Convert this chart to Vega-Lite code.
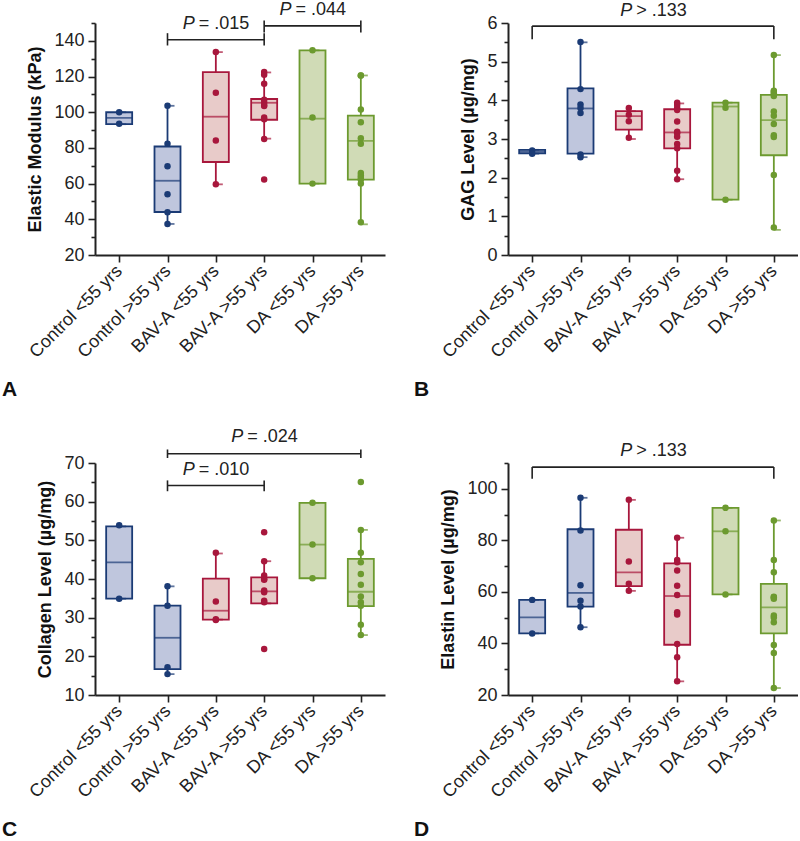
{
  "$schema": "https://vega.github.io/schema/vega-lite/v6.json",
  "background": "white",
  "padding": {"left": 2, "top": 0, "right": 0, "bottom": 0},
  "config": {
    "view": {"stroke": null},
    "font": "Liberation Sans",
    "axis": {
      "domainColor": "#222", "domainWidth": 2, "tickColor": "#222", "tickWidth": 1.6,
      "labelColor": "#222", "labelFontSize": 18, "labelFont": "Liberation Sans",
      "titleColor": "#111", "titleFontSize": 18, "titleFont": "Liberation Sans", "titleFontWeight": "bold",
      "grid": false, "labelPadding": 4, "labelOverlap": false, "labelFlush": false
    },
    "tick": {"thickness": 1.8},
    "text": {"font": "Liberation Sans", "fontSize": 18, "color": "#222"}
  },
  "datasets": {
    "pts": [
      {"panel":"A","group":"Control <55 yrs","v":100},{"panel":"A","group":"Control <55 yrs","v":93.5},
      {"panel":"A","group":"Control >55 yrs","v":103.6},{"panel":"A","group":"Control >55 yrs","v":82.3},{"panel":"A","group":"Control >55 yrs","v":69.7},{"panel":"A","group":"Control >55 yrs","v":54},{"panel":"A","group":"Control >55 yrs","v":44},{"panel":"A","group":"Control >55 yrs","v":37.4},
      {"panel":"A","group":"BAV-A <55 yrs","v":133.7},{"panel":"A","group":"BAV-A <55 yrs","v":110.9},{"panel":"A","group":"BAV-A <55 yrs","v":84.2},{"panel":"A","group":"BAV-A <55 yrs","v":59.6},
      {"panel":"A","group":"BAV-A >55 yrs","v":122.5},{"panel":"A","group":"BAV-A >55 yrs","v":121},{"panel":"A","group":"BAV-A >55 yrs","v":116},{"panel":"A","group":"BAV-A >55 yrs","v":107},{"panel":"A","group":"BAV-A >55 yrs","v":105.5},{"panel":"A","group":"BAV-A >55 yrs","v":104},{"panel":"A","group":"BAV-A >55 yrs","v":103.5},{"panel":"A","group":"BAV-A >55 yrs","v":97},{"panel":"A","group":"BAV-A >55 yrs","v":96},{"panel":"A","group":"BAV-A >55 yrs","v":85},{"panel":"A","group":"BAV-A >55 yrs","v":62.3},
      {"panel":"A","group":"DA <55 yrs","v":134.7},{"panel":"A","group":"DA <55 yrs","v":97},{"panel":"A","group":"DA <55 yrs","v":60},
      {"panel":"A","group":"DA >55 yrs","v":120.6},{"panel":"A","group":"DA >55 yrs","v":120.6},{"panel":"A","group":"DA >55 yrs","v":101.5},{"panel":"A","group":"DA >55 yrs","v":94.4},{"panel":"A","group":"DA >55 yrs","v":85.4},{"panel":"A","group":"DA >55 yrs","v":82.4},{"panel":"A","group":"DA >55 yrs","v":66},{"panel":"A","group":"DA >55 yrs","v":64.5},{"panel":"A","group":"DA >55 yrs","v":63.3},{"panel":"A","group":"DA >55 yrs","v":62.3},{"panel":"A","group":"DA >55 yrs","v":60.1},{"panel":"A","group":"DA >55 yrs","v":38.4},

      {"panel":"B","group":"Control <55 yrs","v":2.70},{"panel":"B","group":"Control <55 yrs","v":2.62},
      {"panel":"B","group":"Control >55 yrs","v":5.51},{"panel":"B","group":"Control >55 yrs","v":4.29},{"panel":"B","group":"Control >55 yrs","v":3.89},{"panel":"B","group":"Control >55 yrs","v":3.80},{"panel":"B","group":"Control >55 yrs","v":3.67},{"panel":"B","group":"Control >55 yrs","v":2.60},{"panel":"B","group":"Control >55 yrs","v":2.53},
      {"panel":"B","group":"BAV-A <55 yrs","v":3.80},{"panel":"B","group":"BAV-A <55 yrs","v":3.63},{"panel":"B","group":"BAV-A <55 yrs","v":3.46},{"panel":"B","group":"BAV-A <55 yrs","v":3.03},
      {"panel":"B","group":"BAV-A >55 yrs","v":3.94},{"panel":"B","group":"BAV-A >55 yrs","v":3.88},{"panel":"B","group":"BAV-A >55 yrs","v":3.80},{"panel":"B","group":"BAV-A >55 yrs","v":3.75},{"panel":"B","group":"BAV-A >55 yrs","v":3.45},{"panel":"B","group":"BAV-A >55 yrs","v":3.19},{"panel":"B","group":"BAV-A >55 yrs","v":3.15},{"panel":"B","group":"BAV-A >55 yrs","v":3.06},{"panel":"B","group":"BAV-A >55 yrs","v":2.87},{"panel":"B","group":"BAV-A >55 yrs","v":2.76},{"panel":"B","group":"BAV-A >55 yrs","v":2.18},{"panel":"B","group":"BAV-A >55 yrs","v":1.96},
      {"panel":"B","group":"DA <55 yrs","v":3.94},{"panel":"B","group":"DA <55 yrs","v":3.81},{"panel":"B","group":"DA <55 yrs","v":1.43},
      {"panel":"B","group":"DA >55 yrs","v":5.17},{"panel":"B","group":"DA >55 yrs","v":4.25},{"panel":"B","group":"DA >55 yrs","v":4.22},{"panel":"B","group":"DA >55 yrs","v":4.18},{"panel":"B","group":"DA >55 yrs","v":4.11},{"panel":"B","group":"DA >55 yrs","v":3.71},{"panel":"B","group":"DA >55 yrs","v":3.60},{"panel":"B","group":"DA >55 yrs","v":3.39},{"panel":"B","group":"DA >55 yrs","v":3.10},{"panel":"B","group":"DA >55 yrs","v":3.05},{"panel":"B","group":"DA >55 yrs","v":2.07},{"panel":"B","group":"DA >55 yrs","v":0.71},

      {"panel":"C","group":"Control <55 yrs","v":53.9},{"panel":"C","group":"Control <55 yrs","v":34.9},
      {"panel":"C","group":"Control >55 yrs","v":38.1},{"panel":"C","group":"Control >55 yrs","v":33.1},{"panel":"C","group":"Control >55 yrs","v":17.2},{"panel":"C","group":"Control >55 yrs","v":15.4},
      {"panel":"C","group":"BAV-A <55 yrs","v":46.8},{"panel":"C","group":"BAV-A <55 yrs","v":34.2},{"panel":"C","group":"BAV-A <55 yrs","v":29.6},{"panel":"C","group":"BAV-A <55 yrs","v":29.4},
      {"panel":"C","group":"BAV-A >55 yrs","v":52.1},{"panel":"C","group":"BAV-A >55 yrs","v":44.6},{"panel":"C","group":"BAV-A >55 yrs","v":40.9},{"panel":"C","group":"BAV-A >55 yrs","v":40.0},{"panel":"C","group":"BAV-A >55 yrs","v":39.8},{"panel":"C","group":"BAV-A >55 yrs","v":37.0},{"panel":"C","group":"BAV-A >55 yrs","v":36.6},{"panel":"C","group":"BAV-A >55 yrs","v":34.4},{"panel":"C","group":"BAV-A >55 yrs","v":34.0},{"panel":"C","group":"BAV-A >55 yrs","v":21.9},
      {"panel":"C","group":"DA <55 yrs","v":59.7},{"panel":"C","group":"DA <55 yrs","v":48.9},{"panel":"C","group":"DA <55 yrs","v":40.2},
      {"panel":"C","group":"DA >55 yrs","v":65.1},{"panel":"C","group":"DA >55 yrs","v":52.7},{"panel":"C","group":"DA >55 yrs","v":46.8},{"panel":"C","group":"DA >55 yrs","v":44.3},{"panel":"C","group":"DA >55 yrs","v":41.3},{"panel":"C","group":"DA >55 yrs","v":38.5},{"panel":"C","group":"DA >55 yrs","v":35.5},{"panel":"C","group":"DA >55 yrs","v":34.0},{"panel":"C","group":"DA >55 yrs","v":33.1},{"panel":"C","group":"DA >55 yrs","v":28.2},{"panel":"C","group":"DA >55 yrs","v":25.5},

      {"panel":"D","group":"Control <55 yrs","v":56.9},{"panel":"D","group":"Control <55 yrs","v":43.9},
      {"panel":"D","group":"Control >55 yrs","v":96.5},{"panel":"D","group":"Control >55 yrs","v":83.8},{"panel":"D","group":"Control >55 yrs","v":62.6},{"panel":"D","group":"Control >55 yrs","v":56.6},{"panel":"D","group":"Control >55 yrs","v":54.3},{"panel":"D","group":"Control >55 yrs","v":46.3},
      {"panel":"D","group":"BAV-A <55 yrs","v":95.7},{"panel":"D","group":"BAV-A <55 yrs","v":71.8},{"panel":"D","group":"BAV-A <55 yrs","v":63.2},{"panel":"D","group":"BAV-A <55 yrs","v":60.4},
      {"panel":"D","group":"BAV-A >55 yrs","v":81.0},{"panel":"D","group":"BAV-A >55 yrs","v":72.4},{"panel":"D","group":"BAV-A >55 yrs","v":71.5},{"panel":"D","group":"BAV-A >55 yrs","v":68.3},{"panel":"D","group":"BAV-A >55 yrs","v":62.4},{"panel":"D","group":"BAV-A >55 yrs","v":58.8},{"panel":"D","group":"BAV-A >55 yrs","v":52.1},{"panel":"D","group":"BAV-A >55 yrs","v":51.2},{"panel":"D","group":"BAV-A >55 yrs","v":39.8},{"panel":"D","group":"BAV-A >55 yrs","v":34.6},{"panel":"D","group":"BAV-A >55 yrs","v":25.3},
      {"panel":"D","group":"DA <55 yrs","v":92.6},{"panel":"D","group":"DA <55 yrs","v":83.5},{"panel":"D","group":"DA <55 yrs","v":59.0},
      {"panel":"D","group":"DA >55 yrs","v":87.7},{"panel":"D","group":"DA >55 yrs","v":72.4},{"panel":"D","group":"DA >55 yrs","v":67.6},{"panel":"D","group":"DA >55 yrs","v":58.1},{"panel":"D","group":"DA >55 yrs","v":57.9},{"panel":"D","group":"DA >55 yrs","v":57.3},{"panel":"D","group":"DA >55 yrs","v":50.8},{"panel":"D","group":"DA >55 yrs","v":50.1},{"panel":"D","group":"DA >55 yrs","v":48.2},{"panel":"D","group":"DA >55 yrs","v":39.4},{"panel":"D","group":"DA >55 yrs","v":36.3},{"panel":"D","group":"DA >55 yrs","v":22.7}
    ],
    "box": [
      {"panel":"A","group":"Control <55 yrs","lo":93.3,"q1":93.3,"med":96.8,"q3":100,"hi":100},
      {"panel":"A","group":"Control >55 yrs","lo":37.4,"q1":44.1,"med":61.6,"q3":80.8,"hi":103.6},
      {"panel":"A","group":"BAV-A <55 yrs","lo":59.6,"q1":72.1,"med":97.5,"q3":122.5,"hi":133.7},
      {"panel":"A","group":"BAV-A >55 yrs","lo":85.2,"q1":95.8,"med":105.3,"q3":107.4,"hi":122.3},
      {"panel":"A","group":"DA <55 yrs","lo":60,"q1":60,"med":96.4,"q3":134.7,"hi":134.7},
      {"panel":"A","group":"DA >55 yrs","lo":37.2,"q1":62.2,"med":84,"q3":98.1,"hi":120.6},
      {"panel":"B","group":"Control <55 yrs","lo":2.62,"q1":2.63,"med":2.67,"q3":2.72,"hi":2.72},
      {"panel":"B","group":"Control >55 yrs","lo":2.53,"q1":2.62,"med":3.79,"q3":4.31,"hi":5.5},
      {"panel":"B","group":"BAV-A <55 yrs","lo":3.0,"q1":3.24,"med":3.59,"q3":3.72,"hi":3.72},
      {"panel":"B","group":"BAV-A >55 yrs","lo":1.96,"q1":2.76,"med":3.17,"q3":3.77,"hi":3.92},
      {"panel":"B","group":"DA <55 yrs","lo":1.43,"q1":1.43,"med":3.84,"q3":3.94,"hi":3.94},
      {"panel":"B","group":"DA >55 yrs","lo":0.65,"q1":2.58,"med":3.49,"q3":4.14,"hi":5.17},
      {"panel":"C","group":"Control <55 yrs","lo":34.9,"q1":34.9,"med":44.3,"q3":53.6,"hi":53.6},
      {"panel":"C","group":"Control >55 yrs","lo":15.4,"q1":16.7,"med":24.8,"q3":33.1,"hi":38.1},
      {"panel":"C","group":"BAV-A <55 yrs","lo":29.5,"q1":29.5,"med":31.8,"q3":40.1,"hi":46.6},
      {"panel":"C","group":"BAV-A >55 yrs","lo":33.7,"q1":33.7,"med":36.8,"q3":40.4,"hi":44.6},
      {"panel":"C","group":"DA <55 yrs","lo":40.2,"q1":40.2,"med":48.9,"q3":59.7,"hi":59.7},
      {"panel":"C","group":"DA >55 yrs","lo":25.5,"q1":33.0,"med":36.7,"q3":45.2,"hi":52.7},
      {"panel":"D","group":"Control <55 yrs","lo":43.9,"q1":43.9,"med":50.1,"q3":56.9,"hi":56.9},
      {"panel":"D","group":"Control >55 yrs","lo":46.3,"q1":54.3,"med":59.6,"q3":84.3,"hi":96.5},
      {"panel":"D","group":"BAV-A <55 yrs","lo":60.4,"q1":62.2,"med":67.6,"q3":84.1,"hi":95.7},
      {"panel":"D","group":"BAV-A >55 yrs","lo":25.3,"q1":39.5,"med":58.4,"q3":71.1,"hi":81.0},
      {"panel":"D","group":"DA <55 yrs","lo":59.0,"q1":59.0,"med":83.5,"q3":92.6,"hi":92.6},
      {"panel":"D","group":"DA >55 yrs","lo":22.7,"q1":43.9,"med":54.0,"q3":63.1,"hi":87.7}
    ],
    "brk": [
      {"panel":"A","from":"Control >55 yrs","to":"BAV-A >55 yrs","y":140.6,"ylo":137.4,"yhi":144.3},
      {"panel":"A","from":"BAV-A >55 yrs","to":"DA >55 yrs","y":148.4,"ylo":144.7,"yhi":151.4},
      {"panel":"B","from":"Control <55 yrs","to":"DA >55 yrs","y":5.92,"ylo":5.58,"yhi":5.92},
      {"panel":"C","from":"Control >55 yrs","to":"DA >55 yrs","y":72.4,"ylo":71.3,"yhi":73.5},
      {"panel":"C","from":"Control >55 yrs","to":"BAV-A >55 yrs","y":64.2,"ylo":62.7,"yhi":65.5},
      {"panel":"D","from":"Control <55 yrs","to":"DA >55 yrs","y":108.4,"ylo":103.9,"yhi":108.4}
    ],
    "ptxt": [
      {"panel":"A","group":"BAV-A <55 yrs","y":146.7,"p":"P","rest":"= .015"},
      {"panel":"A","group":"DA <55 yrs","y":154.5,"p":"P","rest":"= .044"},
      {"panel":"B","group":"BAV-A >55 yrs","y":6.18,"p":"P","rest":"> .133"},
      {"panel":"C","group":"BAV-A >55 yrs","y":75.4,"p":"P","rest":"= .024"},
      {"panel":"C","group":"BAV-A <55 yrs","y":67.0,"p":"P","rest":"= .010"},
      {"panel":"D","group":"BAV-A >55 yrs","y":112.9,"p":"P","rest":"> .133"}
    ]
  },
  "bounds": "flush",
  "spacing": 440,
  "vconcat": [
    {
      "bounds": "flush",
      "spacing": 123,
      "hconcat": [
        {
          "width": 290, "height": 232,
          "title": {"text": "A", "orient": "bottom", "anchor": "start", "frame": "group", "fontSize": 21, "fontWeight": "bold", "font": "Liberation Sans", "color": "#111", "dx": -93, "offset": 18},
          "resolve": {"axis": {"y": "independent"}},
          "layer": [
            {"layer": [
            {"data": {"name": "box"}, "transform": [{"filter": "datum.panel === 'A'"}], "mark": {"type": "rule", "strokeWidth": 1.8},
             "encoding": {
               "x": {"field": "group", "type": "nominal", "title": null, "scale": {"type": "point", "padding": 0.5, "domain": ["Control <55 yrs","Control >55 yrs","BAV-A <55 yrs","BAV-A >55 yrs","DA <55 yrs","DA >55 yrs"]}, "axis": {"labelAngle": -45, "labelAlign": "right", "labelBaseline": "middle", "tickSize": 7, "labelPadding": 6}},
               "y": {"field": "lo", "type": "quantitative", "title": "Elastic Modulus (kPa)", "scale": {"domain": [20, 150], "nice": false, "zero": false}, "axis": {"values": [20,40,60,80,100,120,140], "format": "d", "tickCount": 50, "labelOverlap": false, "tickSize": 7, "titlePadding": 9}},
               "y2": {"field": "hi"},
               "color": {"field": "group", "type": "nominal", "legend": null, "scale": {"domain": ["Control <55 yrs","Control >55 yrs","BAV-A <55 yrs","BAV-A >55 yrs","DA <55 yrs","DA >55 yrs"], "range": ["#1b3b75","#1b3b75","#a8173c","#a8173c","#6c9a2f","#6c9a2f"]}}
             }},
            {"data": {"name": "box"}, "transform": [{"filter": "datum.panel === 'A'"}], "mark": {"type": "bar", "size": 26, "strokeWidth": 1.8},
             "encoding": {
               "x": {"field": "group", "type": "nominal"},
               "y": {"field": "q1", "type": "quantitative"}, "y2": {"field": "q3"},
               "fill": {"field": "group", "type": "nominal", "legend": null, "scale": {"domain": ["Control <55 yrs","Control >55 yrs","BAV-A <55 yrs","BAV-A >55 yrs","DA <55 yrs","DA >55 yrs"], "range": ["#bfc6dd","#bfc6dd","#e8cbc9","#e8cbc9","#d0dbb6","#d0dbb6"]}},
               "stroke": {"field": "group", "type": "nominal", "legend": null, "scale": {"domain": ["Control <55 yrs","Control >55 yrs","BAV-A <55 yrs","BAV-A >55 yrs","DA <55 yrs","DA >55 yrs"], "range": ["#1b3b75","#1b3b75","#a8173c","#a8173c","#6c9a2f","#6c9a2f"]}}
             }},
            {"data": {"name": "box"}, "transform": [{"filter": "datum.panel === 'A'"}], "mark": {"type": "tick", "size": 26, "thickness": 1.8},
             "encoding": {"x": {"field": "group", "type": "nominal"}, "y": {"field": "med", "type": "quantitative"}, "color": {"field": "group", "type": "nominal"}}},
            {"data": {"name": "box"}, "transform": [{"filter": "datum.panel === 'A'"}], "mark": {"type": "tick", "size": 7, "thickness": 1.8, "xOffset": 3.5},
             "encoding": {"x": {"field": "group", "type": "nominal"}, "y": {"field": "lo", "type": "quantitative"}, "color": {"field": "group", "type": "nominal"}}},
            {"data": {"name": "box"}, "transform": [{"filter": "datum.panel === 'A'"}], "mark": {"type": "tick", "size": 7, "thickness": 1.8, "xOffset": 3.5},
             "encoding": {"x": {"field": "group", "type": "nominal"}, "y": {"field": "hi", "type": "quantitative"}, "color": {"field": "group", "type": "nominal"}}},
            {"data": {"name": "pts"}, "transform": [{"filter": "datum.panel === 'A'"}], "mark": {"type": "circle", "size": 42, "opacity": 1},
             "encoding": {"x": {"field": "group", "type": "nominal"}, "y": {"field": "v", "type": "quantitative"}, "color": {"field": "group", "type": "nominal"}}},
            {"data": {"name": "brk"}, "transform": [{"filter": "datum.panel === 'A'"}], "mark": {"type": "rule", "color": "#222", "strokeWidth": 1.6},
             "encoding": {"x": {"field": "from", "type": "nominal"}, "x2": {"field": "to"}, "y": {"field": "y", "type": "quantitative"}}},
            {"data": {"name": "brk"}, "transform": [{"filter": "datum.panel === 'A'"}], "mark": {"type": "rule", "color": "#222", "strokeWidth": 1.6},
             "encoding": {"x": {"field": "from", "type": "nominal"}, "y": {"field": "ylo", "type": "quantitative"}, "y2": {"field": "yhi"}}},
            {"data": {"name": "brk"}, "transform": [{"filter": "datum.panel === 'A'"}], "mark": {"type": "rule", "color": "#222", "strokeWidth": 1.6},
             "encoding": {"x": {"field": "to", "type": "nominal"}, "y": {"field": "ylo", "type": "quantitative"}, "y2": {"field": "yhi"}}},
            {"data": {"name": "ptxt"}, "transform": [{"filter": "datum.panel === 'A'"}], "mark": {"type": "text", "fontStyle": "italic", "align": "right", "baseline": "alphabetic", "dx": -21},
             "encoding": {"x": {"field": "group", "type": "nominal"}, "y": {"field": "y", "type": "quantitative"}, "text": {"field": "p"}}},
            {"data": {"name": "ptxt"}, "transform": [{"filter": "datum.panel === 'A'"}], "mark": {"type": "text", "align": "left", "baseline": "alphabetic", "dx": -17},
             "encoding": {"x": {"field": "group", "type": "nominal"}, "y": {"field": "y", "type": "quantitative"}, "text": {"field": "rest"}}}
            ]},
            {"data": {"name": "pts"}, "transform": [{"filter": "datum.panel === 'A'"}], "mark": {"type": "point", "opacity": 0},
             "encoding": {"x": {"field": "group", "type": "nominal"}, "y": {"field": "v", "type": "quantitative", "title": null, "axis": {"orient": "left", "values": [30,50,70,90,110,130,150], "tickCount": 50, "labels": false, "domain": false, "tickSize": 4, "title": null}}}}
          ]
        },
        {
          "width": 290, "height": 232,
          "title": {"text": "B", "orient": "bottom", "anchor": "start", "frame": "group", "fontSize": 21, "fontWeight": "bold", "font": "Liberation Sans", "color": "#111", "dx": -94, "offset": 18},
          "resolve": {"axis": {"y": "independent"}},
          "layer": [
            {"layer": [
            {"data": {"name": "box"}, "transform": [{"filter": "datum.panel === 'B'"}], "mark": {"type": "rule", "strokeWidth": 1.8},
             "encoding": {
               "x": {"field": "group", "type": "nominal", "title": null, "scale": {"type": "point", "padding": 0.5, "domain": ["Control <55 yrs","Control >55 yrs","BAV-A <55 yrs","BAV-A >55 yrs","DA <55 yrs","DA >55 yrs"]}, "axis": {"labelAngle": -45, "labelAlign": "right", "labelBaseline": "middle", "tickSize": 7, "labelPadding": 6}},
               "y": {"field": "lo", "type": "quantitative", "title": "GAG Level (µg/mg)", "scale": {"domain": [0, 6], "nice": false, "zero": false}, "axis": {"values": [0,1,2,3,4,5,6], "format": "d", "tickCount": 50, "labelOverlap": false, "tickSize": 7, "titlePadding": 9}},
               "y2": {"field": "hi"},
               "color": {"field": "group", "type": "nominal", "legend": null, "scale": {"domain": ["Control <55 yrs","Control >55 yrs","BAV-A <55 yrs","BAV-A >55 yrs","DA <55 yrs","DA >55 yrs"], "range": ["#1b3b75","#1b3b75","#a8173c","#a8173c","#6c9a2f","#6c9a2f"]}}
             }},
            {"data": {"name": "box"}, "transform": [{"filter": "datum.panel === 'B'"}], "mark": {"type": "bar", "size": 26, "strokeWidth": 1.8},
             "encoding": {
               "x": {"field": "group", "type": "nominal"},
               "y": {"field": "q1", "type": "quantitative"}, "y2": {"field": "q3"},
               "fill": {"field": "group", "type": "nominal", "legend": null, "scale": {"domain": ["Control <55 yrs","Control >55 yrs","BAV-A <55 yrs","BAV-A >55 yrs","DA <55 yrs","DA >55 yrs"], "range": ["#bfc6dd","#bfc6dd","#e8cbc9","#e8cbc9","#d0dbb6","#d0dbb6"]}},
               "stroke": {"field": "group", "type": "nominal", "legend": null, "scale": {"domain": ["Control <55 yrs","Control >55 yrs","BAV-A <55 yrs","BAV-A >55 yrs","DA <55 yrs","DA >55 yrs"], "range": ["#1b3b75","#1b3b75","#a8173c","#a8173c","#6c9a2f","#6c9a2f"]}}
             }},
            {"data": {"name": "box"}, "transform": [{"filter": "datum.panel === 'B'"}], "mark": {"type": "tick", "size": 26, "thickness": 1.8},
             "encoding": {"x": {"field": "group", "type": "nominal"}, "y": {"field": "med", "type": "quantitative"}, "color": {"field": "group", "type": "nominal"}}},
            {"data": {"name": "box"}, "transform": [{"filter": "datum.panel === 'B'"}], "mark": {"type": "tick", "size": 7, "thickness": 1.8, "xOffset": 3.5},
             "encoding": {"x": {"field": "group", "type": "nominal"}, "y": {"field": "lo", "type": "quantitative"}, "color": {"field": "group", "type": "nominal"}}},
            {"data": {"name": "box"}, "transform": [{"filter": "datum.panel === 'B'"}], "mark": {"type": "tick", "size": 7, "thickness": 1.8, "xOffset": 3.5},
             "encoding": {"x": {"field": "group", "type": "nominal"}, "y": {"field": "hi", "type": "quantitative"}, "color": {"field": "group", "type": "nominal"}}},
            {"data": {"name": "pts"}, "transform": [{"filter": "datum.panel === 'B'"}], "mark": {"type": "circle", "size": 42, "opacity": 1},
             "encoding": {"x": {"field": "group", "type": "nominal"}, "y": {"field": "v", "type": "quantitative"}, "color": {"field": "group", "type": "nominal"}}},
            {"data": {"name": "brk"}, "transform": [{"filter": "datum.panel === 'B'"}], "mark": {"type": "rule", "color": "#222", "strokeWidth": 1.6},
             "encoding": {"x": {"field": "from", "type": "nominal"}, "x2": {"field": "to"}, "y": {"field": "y", "type": "quantitative"}}},
            {"data": {"name": "brk"}, "transform": [{"filter": "datum.panel === 'B'"}], "mark": {"type": "rule", "color": "#222", "strokeWidth": 1.6},
             "encoding": {"x": {"field": "from", "type": "nominal"}, "y": {"field": "ylo", "type": "quantitative"}, "y2": {"field": "yhi"}}},
            {"data": {"name": "brk"}, "transform": [{"filter": "datum.panel === 'B'"}], "mark": {"type": "rule", "color": "#222", "strokeWidth": 1.6},
             "encoding": {"x": {"field": "to", "type": "nominal"}, "y": {"field": "ylo", "type": "quantitative"}, "y2": {"field": "yhi"}}},
            {"data": {"name": "ptxt"}, "transform": [{"filter": "datum.panel === 'B'"}], "mark": {"type": "text", "fontStyle": "italic", "align": "right", "baseline": "alphabetic", "dx": -45},
             "encoding": {"x": {"field": "group", "type": "nominal"}, "y": {"field": "y", "type": "quantitative"}, "text": {"field": "p"}}},
            {"data": {"name": "ptxt"}, "transform": [{"filter": "datum.panel === 'B'"}], "mark": {"type": "text", "align": "left", "baseline": "alphabetic", "dx": -41},
             "encoding": {"x": {"field": "group", "type": "nominal"}, "y": {"field": "y", "type": "quantitative"}, "text": {"field": "rest"}}}
            ]},
            {"data": {"name": "pts"}, "transform": [{"filter": "datum.panel === 'B'"}], "mark": {"type": "point", "opacity": 0},
             "encoding": {"x": {"field": "group", "type": "nominal"}, "y": {"field": "v", "type": "quantitative", "title": null, "axis": {"orient": "left", "values": [0.5,1.5,2.5,3.5,4.5,5.5], "tickCount": 50, "labels": false, "domain": false, "tickSize": 4, "title": null}}}}
          ]
        }
      ]
    },
    {
      "bounds": "flush",
      "spacing": 123,
      "hconcat": [
        {
          "width": 290, "height": 232,
          "title": {"text": "C", "orient": "bottom", "anchor": "start", "frame": "group", "fontSize": 21, "fontWeight": "bold", "font": "Liberation Sans", "color": "#111", "dx": -93, "offset": 18},
          "resolve": {"axis": {"y": "independent"}},
          "layer": [
            {"layer": [
            {"data": {"name": "box"}, "transform": [{"filter": "datum.panel === 'C'"}], "mark": {"type": "rule", "strokeWidth": 1.8},
             "encoding": {
               "x": {"field": "group", "type": "nominal", "title": null, "scale": {"type": "point", "padding": 0.5, "domain": ["Control <55 yrs","Control >55 yrs","BAV-A <55 yrs","BAV-A >55 yrs","DA <55 yrs","DA >55 yrs"]}, "axis": {"labelAngle": -45, "labelAlign": "right", "labelBaseline": "middle", "tickSize": 7, "labelPadding": 6}},
               "y": {"field": "lo", "type": "quantitative", "title": "Collagen Level (µg/mg)", "scale": {"domain": [10, 70], "nice": false, "zero": false}, "axis": {"values": [10,20,30,40,50,60,70], "format": "d", "tickCount": 50, "labelOverlap": false, "tickSize": 7, "titlePadding": 9}},
               "y2": {"field": "hi"},
               "color": {"field": "group", "type": "nominal", "legend": null, "scale": {"domain": ["Control <55 yrs","Control >55 yrs","BAV-A <55 yrs","BAV-A >55 yrs","DA <55 yrs","DA >55 yrs"], "range": ["#1b3b75","#1b3b75","#a8173c","#a8173c","#6c9a2f","#6c9a2f"]}}
             }},
            {"data": {"name": "box"}, "transform": [{"filter": "datum.panel === 'C'"}], "mark": {"type": "bar", "size": 26, "strokeWidth": 1.8},
             "encoding": {
               "x": {"field": "group", "type": "nominal"},
               "y": {"field": "q1", "type": "quantitative"}, "y2": {"field": "q3"},
               "fill": {"field": "group", "type": "nominal", "legend": null, "scale": {"domain": ["Control <55 yrs","Control >55 yrs","BAV-A <55 yrs","BAV-A >55 yrs","DA <55 yrs","DA >55 yrs"], "range": ["#bfc6dd","#bfc6dd","#e8cbc9","#e8cbc9","#d0dbb6","#d0dbb6"]}},
               "stroke": {"field": "group", "type": "nominal", "legend": null, "scale": {"domain": ["Control <55 yrs","Control >55 yrs","BAV-A <55 yrs","BAV-A >55 yrs","DA <55 yrs","DA >55 yrs"], "range": ["#1b3b75","#1b3b75","#a8173c","#a8173c","#6c9a2f","#6c9a2f"]}}
             }},
            {"data": {"name": "box"}, "transform": [{"filter": "datum.panel === 'C'"}], "mark": {"type": "tick", "size": 26, "thickness": 1.8},
             "encoding": {"x": {"field": "group", "type": "nominal"}, "y": {"field": "med", "type": "quantitative"}, "color": {"field": "group", "type": "nominal"}}},
            {"data": {"name": "box"}, "transform": [{"filter": "datum.panel === 'C'"}], "mark": {"type": "tick", "size": 7, "thickness": 1.8, "xOffset": 3.5},
             "encoding": {"x": {"field": "group", "type": "nominal"}, "y": {"field": "lo", "type": "quantitative"}, "color": {"field": "group", "type": "nominal"}}},
            {"data": {"name": "box"}, "transform": [{"filter": "datum.panel === 'C'"}], "mark": {"type": "tick", "size": 7, "thickness": 1.8, "xOffset": 3.5},
             "encoding": {"x": {"field": "group", "type": "nominal"}, "y": {"field": "hi", "type": "quantitative"}, "color": {"field": "group", "type": "nominal"}}},
            {"data": {"name": "pts"}, "transform": [{"filter": "datum.panel === 'C'"}], "mark": {"type": "circle", "size": 42, "opacity": 1},
             "encoding": {"x": {"field": "group", "type": "nominal"}, "y": {"field": "v", "type": "quantitative"}, "color": {"field": "group", "type": "nominal"}}},
            {"data": {"name": "brk"}, "transform": [{"filter": "datum.panel === 'C'"}], "mark": {"type": "rule", "color": "#222", "strokeWidth": 1.6},
             "encoding": {"x": {"field": "from", "type": "nominal"}, "x2": {"field": "to"}, "y": {"field": "y", "type": "quantitative"}}},
            {"data": {"name": "brk"}, "transform": [{"filter": "datum.panel === 'C'"}], "mark": {"type": "rule", "color": "#222", "strokeWidth": 1.6},
             "encoding": {"x": {"field": "from", "type": "nominal"}, "y": {"field": "ylo", "type": "quantitative"}, "y2": {"field": "yhi"}}},
            {"data": {"name": "brk"}, "transform": [{"filter": "datum.panel === 'C'"}], "mark": {"type": "rule", "color": "#222", "strokeWidth": 1.6},
             "encoding": {"x": {"field": "to", "type": "nominal"}, "y": {"field": "ylo", "type": "quantitative"}, "y2": {"field": "yhi"}}},
            {"data": {"name": "ptxt"}, "transform": [{"filter": "datum.panel === 'C'"}], "mark": {"type": "text", "fontStyle": "italic", "align": "right", "baseline": "alphabetic", "dx": -21},
             "encoding": {"x": {"field": "group", "type": "nominal"}, "y": {"field": "y", "type": "quantitative"}, "text": {"field": "p"}}},
            {"data": {"name": "ptxt"}, "transform": [{"filter": "datum.panel === 'C'"}], "mark": {"type": "text", "align": "left", "baseline": "alphabetic", "dx": -17},
             "encoding": {"x": {"field": "group", "type": "nominal"}, "y": {"field": "y", "type": "quantitative"}, "text": {"field": "rest"}}}
            ]},
            {"data": {"name": "pts"}, "transform": [{"filter": "datum.panel === 'C'"}], "mark": {"type": "point", "opacity": 0},
             "encoding": {"x": {"field": "group", "type": "nominal"}, "y": {"field": "v", "type": "quantitative", "title": null, "axis": {"orient": "left", "values": [15,25,35,45,55,65], "tickCount": 50, "labels": false, "domain": false, "tickSize": 4, "title": null}}}}
          ]
        },
        {
          "width": 290, "height": 232,
          "title": {"text": "D", "orient": "bottom", "anchor": "start", "frame": "group", "fontSize": 21, "fontWeight": "bold", "font": "Liberation Sans", "color": "#111", "dx": -94, "offset": 18},
          "resolve": {"axis": {"y": "independent"}},
          "layer": [
            {"layer": [
            {"data": {"name": "box"}, "transform": [{"filter": "datum.panel === 'D'"}], "mark": {"type": "rule", "strokeWidth": 1.8},
             "encoding": {
               "x": {"field": "group", "type": "nominal", "title": null, "scale": {"type": "point", "padding": 0.5, "domain": ["Control <55 yrs","Control >55 yrs","BAV-A <55 yrs","BAV-A >55 yrs","DA <55 yrs","DA >55 yrs"]}, "axis": {"labelAngle": -45, "labelAlign": "right", "labelBaseline": "middle", "tickSize": 7, "labelPadding": 6}},
               "y": {"field": "lo", "type": "quantitative", "title": "Elastin Level (µg/mg)", "scale": {"domain": [20, 110], "nice": false, "zero": false}, "axis": {"values": [20,40,60,80,100], "format": "d", "tickCount": 50, "labelOverlap": false, "tickSize": 7, "titlePadding": 9}},
               "y2": {"field": "hi"},
               "color": {"field": "group", "type": "nominal", "legend": null, "scale": {"domain": ["Control <55 yrs","Control >55 yrs","BAV-A <55 yrs","BAV-A >55 yrs","DA <55 yrs","DA >55 yrs"], "range": ["#1b3b75","#1b3b75","#a8173c","#a8173c","#6c9a2f","#6c9a2f"]}}
             }},
            {"data": {"name": "box"}, "transform": [{"filter": "datum.panel === 'D'"}], "mark": {"type": "bar", "size": 26, "strokeWidth": 1.8},
             "encoding": {
               "x": {"field": "group", "type": "nominal"},
               "y": {"field": "q1", "type": "quantitative"}, "y2": {"field": "q3"},
               "fill": {"field": "group", "type": "nominal", "legend": null, "scale": {"domain": ["Control <55 yrs","Control >55 yrs","BAV-A <55 yrs","BAV-A >55 yrs","DA <55 yrs","DA >55 yrs"], "range": ["#bfc6dd","#bfc6dd","#e8cbc9","#e8cbc9","#d0dbb6","#d0dbb6"]}},
               "stroke": {"field": "group", "type": "nominal", "legend": null, "scale": {"domain": ["Control <55 yrs","Control >55 yrs","BAV-A <55 yrs","BAV-A >55 yrs","DA <55 yrs","DA >55 yrs"], "range": ["#1b3b75","#1b3b75","#a8173c","#a8173c","#6c9a2f","#6c9a2f"]}}
             }},
            {"data": {"name": "box"}, "transform": [{"filter": "datum.panel === 'D'"}], "mark": {"type": "tick", "size": 26, "thickness": 1.8},
             "encoding": {"x": {"field": "group", "type": "nominal"}, "y": {"field": "med", "type": "quantitative"}, "color": {"field": "group", "type": "nominal"}}},
            {"data": {"name": "box"}, "transform": [{"filter": "datum.panel === 'D'"}], "mark": {"type": "tick", "size": 7, "thickness": 1.8, "xOffset": 3.5},
             "encoding": {"x": {"field": "group", "type": "nominal"}, "y": {"field": "lo", "type": "quantitative"}, "color": {"field": "group", "type": "nominal"}}},
            {"data": {"name": "box"}, "transform": [{"filter": "datum.panel === 'D'"}], "mark": {"type": "tick", "size": 7, "thickness": 1.8, "xOffset": 3.5},
             "encoding": {"x": {"field": "group", "type": "nominal"}, "y": {"field": "hi", "type": "quantitative"}, "color": {"field": "group", "type": "nominal"}}},
            {"data": {"name": "pts"}, "transform": [{"filter": "datum.panel === 'D'"}], "mark": {"type": "circle", "size": 42, "opacity": 1},
             "encoding": {"x": {"field": "group", "type": "nominal"}, "y": {"field": "v", "type": "quantitative"}, "color": {"field": "group", "type": "nominal"}}},
            {"data": {"name": "brk"}, "transform": [{"filter": "datum.panel === 'D'"}], "mark": {"type": "rule", "color": "#222", "strokeWidth": 1.6},
             "encoding": {"x": {"field": "from", "type": "nominal"}, "x2": {"field": "to"}, "y": {"field": "y", "type": "quantitative"}}},
            {"data": {"name": "brk"}, "transform": [{"filter": "datum.panel === 'D'"}], "mark": {"type": "rule", "color": "#222", "strokeWidth": 1.6},
             "encoding": {"x": {"field": "from", "type": "nominal"}, "y": {"field": "ylo", "type": "quantitative"}, "y2": {"field": "yhi"}}},
            {"data": {"name": "brk"}, "transform": [{"filter": "datum.panel === 'D'"}], "mark": {"type": "rule", "color": "#222", "strokeWidth": 1.6},
             "encoding": {"x": {"field": "to", "type": "nominal"}, "y": {"field": "ylo", "type": "quantitative"}, "y2": {"field": "yhi"}}},
            {"data": {"name": "ptxt"}, "transform": [{"filter": "datum.panel === 'D'"}], "mark": {"type": "text", "fontStyle": "italic", "align": "right", "baseline": "alphabetic", "dx": -45},
             "encoding": {"x": {"field": "group", "type": "nominal"}, "y": {"field": "y", "type": "quantitative"}, "text": {"field": "p"}}},
            {"data": {"name": "ptxt"}, "transform": [{"filter": "datum.panel === 'D'"}], "mark": {"type": "text", "align": "left", "baseline": "alphabetic", "dx": -41},
             "encoding": {"x": {"field": "group", "type": "nominal"}, "y": {"field": "y", "type": "quantitative"}, "text": {"field": "rest"}}}
            ]},
            {"data": {"name": "pts"}, "transform": [{"filter": "datum.panel === 'D'"}], "mark": {"type": "point", "opacity": 0},
             "encoding": {"x": {"field": "group", "type": "nominal"}, "y": {"field": "v", "type": "quantitative", "title": null, "axis": {"orient": "left", "values": [30,50,70,90,110], "tickCount": 50, "labels": false, "domain": false, "tickSize": 4, "title": null}}}}
          ]
        }
      ]
    }
  ]
}
